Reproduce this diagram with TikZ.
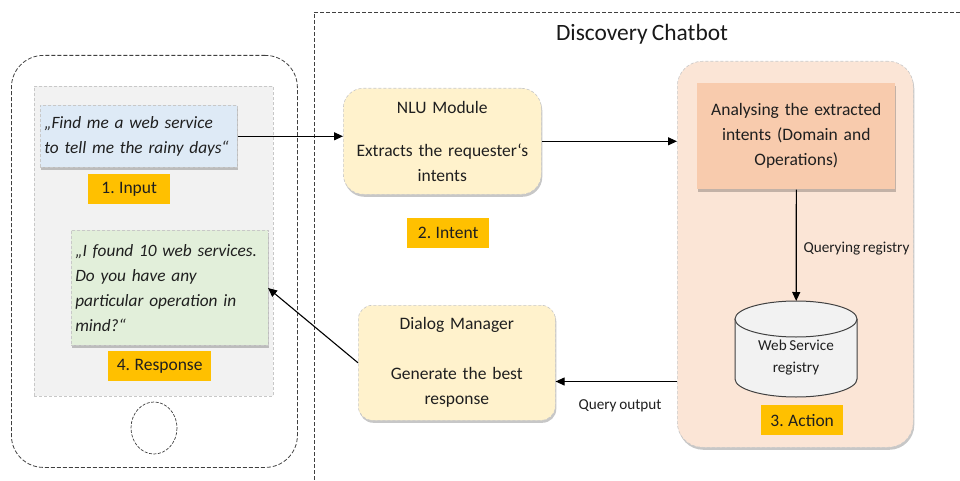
\documentclass[tikz,border=0pt]{standalone}
\usepackage{fontspec}
\setmainfont[WordSpace=0.8]{Carlito}
\usetikzlibrary{arrows.meta,shadows,positioning,calc}
\definecolor{edgeD}{HTML}{404040}
\definecolor{edgeL}{HTML}{C8C8C8}
\definecolor{tagC}{HTML}{FFC000}
\tikzset{
  box/.style={draw=edgeL,densely dashed,line width=0.6pt,align=center,inner sep=0pt,anchor=north west,
    drop shadow={shadow xshift=1pt,shadow yshift=-2.5pt,fill=black,opacity=0.22}},
  txt/.style={font=\fontsize{17.5}{25}\selectfont,text=black!88},
  quote/.style={box,txt,font=\fontsize{17.3}{25}\selectfont\itshape,align=left},
  tag/.style={fill=tagC,inner sep=0pt,anchor=north west,minimum width=82pt,minimum height=30pt,txt},
  frame/.style={draw=edgeD,dashed,line width=0.8pt,dash pattern=on 4pt off 2pt},
  conn/.style={draw=black,line width=1.1pt,-{Triangle[length=9pt,width=8pt]}},
  small/.style={font=\fontsize{15.2}{22}\selectfont,text=black!88},
}
\begin{document}
\begin{tikzpicture}[x=1pt,y=-1pt]
\useasboundingbox (0,0) rectangle (960,481);
\fill[white] (0,0) rectangle (960,481);
% phone
\node[frame,rounded corners=32pt,anchor=north west,inner sep=0pt,minimum width=286pt,minimum height=412pt] (phone) at (11,55) {};
\node[draw=edgeL,fill=black!5,densely dashed,line width=0.6pt,anchor=north west,inner sep=0pt,minimum width=239pt,minimum height=310pt] (screen) at (34,86) {};
\draw[frame,dash pattern=on 3pt off 1.5pt,line width=0.7pt] (154,428) ellipse [x radius=23,y radius=26];
% chatbot frame
\coordinate (framecorner) at (314,12);
\coordinate (frameright) at (960,12);
\coordinate (framebottom) at (314,481);
\draw[frame,line width=0.9pt] (frameright) -- (framecorner) -- (framebottom);
\node[font=\fontsize{23.4}{27}\selectfont,text=black!90] (title) at (642,34) {Discovery Chatbot};
% left column
\node[quote,fill={rgb,255:red,222;green,234;blue,246},minimum width=197pt,minimum height=62pt,text width=189pt,inner xsep=4pt] (blue) at (40,105) {„Find me a web service\\to tell me the rainy days“};
\node[tag] (t1) at (88,174) {1. Input};
\node[quote,fill={rgb,255:red,226;green,239;blue,218},minimum width=197pt,minimum height=115pt,text width=189pt,inner xsep=4pt] (green) at (71,230) {„I found 10 web services.\\Do you have any\\particular operation in\\mind?“};
\node[tag,minimum width=103pt] (t4) at (108,351) {4. Response};
% middle
\node[box,txt,fill={rgb,255:red,255;green,242;blue,204},rounded corners=20pt,minimum width=198pt,minimum height=106pt,text width=186pt] (nlu) at (343,88) {NLU Module\\[18pt]Extracts the requester‘s\\intents};
\node[tag] (t2) at (407,218) {2. Intent};
\node[box,txt,fill={rgb,255:red,255;green,242;blue,204},rounded corners=14pt,minimum width=197pt,minimum height=115pt,text width=185pt] (dlg) at (358,305) {Dialog Manager\\[25pt]Generate the best\\response};
% right
\node[box,fill={rgb,255:red,251;green,229;blue,214},rounded corners=25pt,minimum width=236pt,minimum height=386pt] (action) at (677,61) {};
\node[box,txt,draw=none,fill={rgb,255:red,248;green,203;blue,173},minimum width=198pt,minimum height=106pt,text width=186pt] (ana) at (697,83) {Analysing the extracted\\intents (Domain and\\Operations)};
\node[anchor=north west,inner sep=0pt,minimum width=122pt,minimum height=96pt] (cyl) at (735,301) {};
\path[fill=black!5] (735,319) rectangle (857,379);
\draw[draw=edgeD,fill=black!5,line width=1pt] (735,319) -- (735,379) arc[start angle=180,end angle=360,x radius=61,y radius=-18] -- (857,319);
\draw[draw=edgeD,fill=black!5,line width=1pt] (796,319) ellipse [x radius=61,y radius=18];
\node[small,align=center] (cyltxt) at (796,358) {Web Service\\registry};
\node[tag] (t3) at (761,405) {3. Action};
% connectors
\draw[conn] (blue.east) -- (blue.east -| nlu.west);
\draw[conn] (nlu.east) -- (nlu.east -| action.west);
\draw[conn] (ana.south) -- (cyl.north);
\draw[conn] (action.west |- 0,381.5) -- (dlg.east |- 0,381.5);
\draw[conn] (dlg.west) -- (268,288);
\node[small,anchor=west] (qr) at (800,249) {Querying registry};
\node[small] (qo) at (620,406) {Query output};
\end{tikzpicture}
\end{document}
